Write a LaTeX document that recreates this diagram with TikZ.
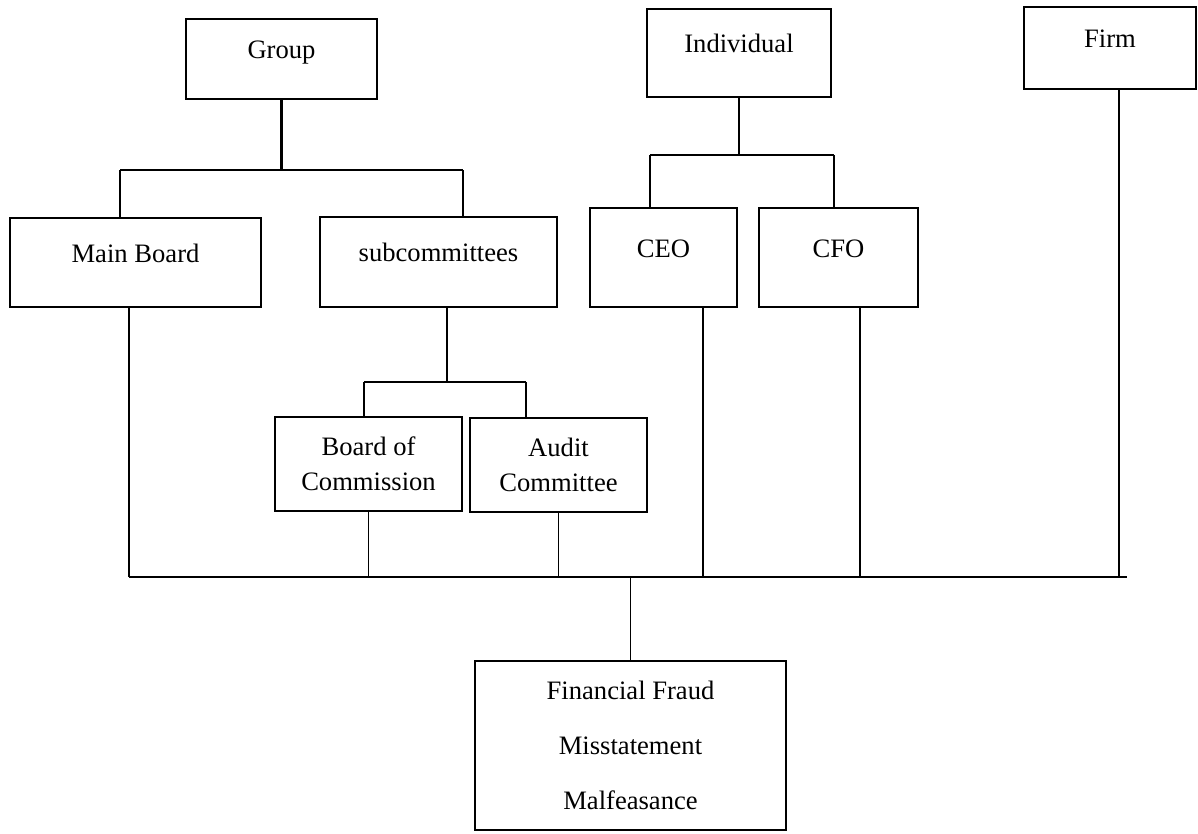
\documentclass[tikz,border=0pt]{standalone}
\usepackage{fontspec}
\setmainfont{Liberation Serif}
\usepackage{tikz}

\tikzset{
  box/.style={draw, line width=2.6pt, inner sep=0pt, align=center,
    font=\fontsize{26.6}{35}\selectfont},
  boxtop/.style={box, text height=18pt, text depth=19pt},
  link/.style={line width=1.3pt},
  grouplink/.style={line width=2.6pt}
}

\begin{document}
\begin{tikzpicture}[x=1pt,y=-1pt]
\useasboundingbox (0,0) rectangle (1198,833);
%top level
\node[boxtop, minimum width=191pt, minimum height=80pt] (group) at (281.5,59) {Group};
\node[boxtop, minimum width=184pt, minimum height=88pt] (individual) at (739,53) {Individual};
\node[boxtop, minimum width=172pt, minimum height=82pt] (firm) at (1110,48) {Firm};
%second level
\node[boxtop, minimum width=251pt, minimum height=89pt] (mainboard) at (135.5,262.5) {Main Board};
\node[boxtop, minimum width=237pt, minimum height=90pt] (subcom) at (438.5,262) {subcommittees};
\node[boxtop, minimum width=147pt, minimum height=99pt] (ceo) at (663.5,257.5) {CEO};
\node[boxtop, minimum width=159pt, minimum height=99pt] (cfo) at (838.5,257.5) {CFO};
%third level
\node[box, minimum width=187pt, minimum height=94pt] (boc) at (368.5,464) {Board of\\Commission};
\node[box, minimum width=177pt, minimum height=94pt] (audit) at (558.5,465) {Audit\\Committee};
%outcome
\node[box, minimum width=311pt, minimum height=169pt] (fraud) at (630.5,745.5)
  {Financial Fraud\\[20pt]Misstatement\\[20pt]Malfeasance};
%group branch
\coordinate (gl) at (120,170);
\coordinate (gr) at (463,170);
\draw[grouplink] (group.south) -- (group.south |- gl);
\draw[grouplink] (gl) -- (gr);
\draw[link] (gl) -- (gl |- mainboard.north);
\draw[link] (gr) -- (gr |- subcom.north);
%individual branch
\coordinate (il) at (650,155);
\coordinate (ir) at (834,155);
\draw[link] (individual.south) -- (individual.south |- il);
\draw[link] (il) -- (ir);
\draw[link] (il) -- (il |- ceo.north);
\draw[link] (ir) -- (ir |- cfo.north);
%subcommittees branch
\coordinate (sm) at (447,382);
\coordinate (sl) at (364,382);
\coordinate (sr) at (526,382);
\draw[link] (sm |- subcom.south) -- (sm);
\draw[link] (sl) -- (sr);
\draw[link] (sl) -- (sl |- boc.north);
\draw[link] (sr) -- (sr |- audit.north);
%bottom line
\coordinate (bl) at (129,577);
\coordinate (br) at (1127,577);
\coordinate (ceox) at (703,577);
\coordinate (cfox) at (860,577);
\coordinate (firmx) at (1119,577);
\draw[link] (bl) -- (br);
\draw[link] (bl |- mainboard.south) -- (bl);
\draw[link] (boc.south) -- (boc.south |- bl);
\draw[link] (audit.south) -- (audit.south |- bl);
\draw[link] (ceox |- ceo.south) -- (ceox);
\draw[link] (cfox |- cfo.south) -- (cfox);
\draw[link] (firmx |- firm.south) -- (firmx);
\draw[link] (fraud.north) -- (fraud.north |- bl);
\end{tikzpicture}
\end{document}
